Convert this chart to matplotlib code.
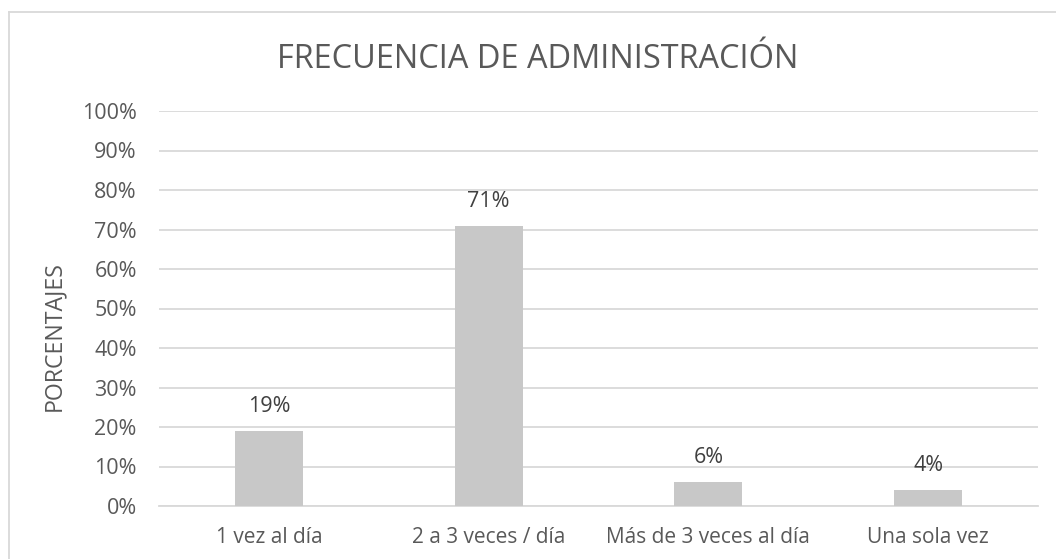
import matplotlib
matplotlib.use("Agg")
import matplotlib.pyplot as plt
from matplotlib.lines import Line2D
from matplotlib.ticker import PercentFormatter

categories = ["1 vez al día", "2 a 3 veces / día", "Más de 3 veces al día", "Una sola vez"]
values = [0.19, 0.71, 0.06, 0.04]
labels = ["19%", "71%", "6%", "4%"]
yticks = [0, 0.1, 0.2, 0.3, 0.4, 0.5, 0.6, 0.7, 0.8, 0.9, 1.0]

plt.rcParams['font.family'] = ['Open Sans', 'DejaVu Sans']
txt = '#595959'

W, H = 1056, 559
fig = plt.figure(figsize=(W/100, H/100), dpi=100)
ax = fig.add_axes([159/W, 1-506/H, (1038-159)/W, (506-111)/H])

x = list(range(len(categories)))
ax.bar(x, values, width=0.31, color='#C8C8C8', zorder=3)
for xi, v, l in zip(x, values, labels):
    ax.annotate(l, (xi, v), xytext=(0, 19), textcoords='offset pixels',
                ha='center', va='baseline', fontsize=15.5, color='#404040')

ax.set_xlim(-0.5, len(categories) - 0.5)
ax.set_ylim(0, 1.0)
ax.set_yticks(yticks)
ax.yaxis.set_major_formatter(PercentFormatter(1.0, decimals=0))
ax.set_xticks(x)
ax.set_xticklabels(categories)
ax.grid(axis='y', color='#D9D9D9', linewidth=1.3, zorder=0)
for s in ['top', 'right', 'left']:
    ax.spines[s].set_visible(False)
ax.spines['bottom'].set_color('#D9D9D9')
ax.spines['bottom'].set_linewidth(1.3)
ax.tick_params(axis='both', length=0, labelcolor=txt)
ax.tick_params(axis='y', pad=16, labelsize=15.5)
ax.tick_params(axis='x', pad=15, labelsize=15)

fig.text(60/W, 1-336/H, "PORCENTAJES", rotation=90, rotation_mode='anchor',
         ha='center', va='baseline', fontsize=16.7, color=txt)

fig.text(537.5/W, 1-68/H, "FRECUENCIA DE ADMINISTRACIÓN",
         ha='center', va='baseline', fontsize=23.4, color=txt)

fig.add_artist(Line2D([9/W, 1], [1-12/H, 1-12/H], transform=fig.transFigure, color='#D9D9D9', lw=1.3))
fig.add_artist(Line2D([9/W, 9/W], [0, 1-12/H], transform=fig.transFigure, color='#D9D9D9', lw=1.3))

fig.savefig("out.png", dpi=100)
